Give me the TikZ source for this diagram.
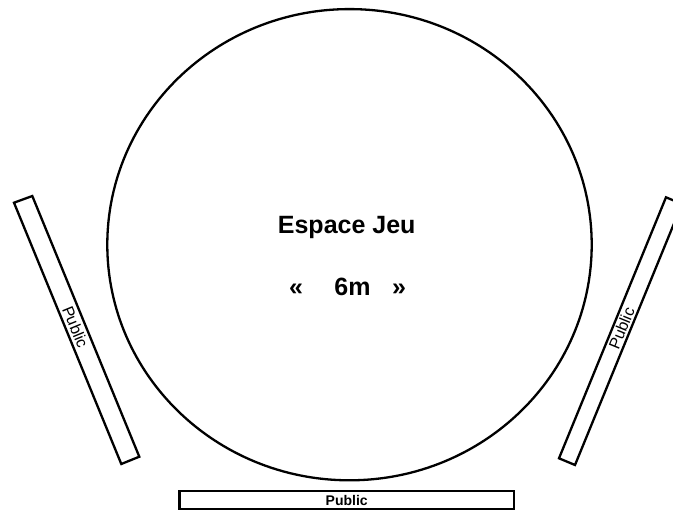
\documentclass[tikz,border=0pt]{standalone}
\usepackage{fontspec}
\setmainfont{Liberation Sans}
\begin{document}
\begin{tikzpicture}[x={(1pt,0)},y={(0,-1pt)},
  outline/.style={draw=black,line width=2.3pt},
  bigtxt/.style={font=\fontsize{25}{29}\selectfont\bfseries,inner sep=0pt,anchor=base},
  bartxt/.style={font=\fontsize{16}{18}\selectfont,inner sep=0pt},
  bottxt/.style={font=\fontsize{14}{16}\selectfont\bfseries,inner sep=0pt}]
\useasboundingbox (0,0) rectangle (673,511);
\clip (0,0) rectangle (673,511);
% playing area
\draw[outline] (349.5,244.7) ellipse [x radius=242.2pt, y radius=235.6pt];
\node[bigtxt] (title) at (346.7,233.5) {Espace Jeu};
\node[bigtxt] (lq) at (296,295) {«};
\node[bigtxt] (size) at (352.5,295) {6m};
\node[bigtxt] (rq) at (399,295) {»};
% left public bar
\draw[outline] (14,202.7) -- (32.3,196) -- (139.3,456.7) -- (121.3,464) -- cycle;
\node[bartxt,rotate=-67.7] (pl) at (75.5,327) {Public};
% right public bar
\draw[outline] (666,197.3) -- (682,204) -- (575,465) -- (559,458.3) -- cycle;
\node[bartxt,rotate=67.7] (pr) at (621.5,328.5) {Public};
% bottom public bar
\draw[outline] (179.5,491) rectangle (514,509.3);
\node[bottxt] (pb) at (346.7,500.3) {Public};
\end{tikzpicture}
\end{document}
